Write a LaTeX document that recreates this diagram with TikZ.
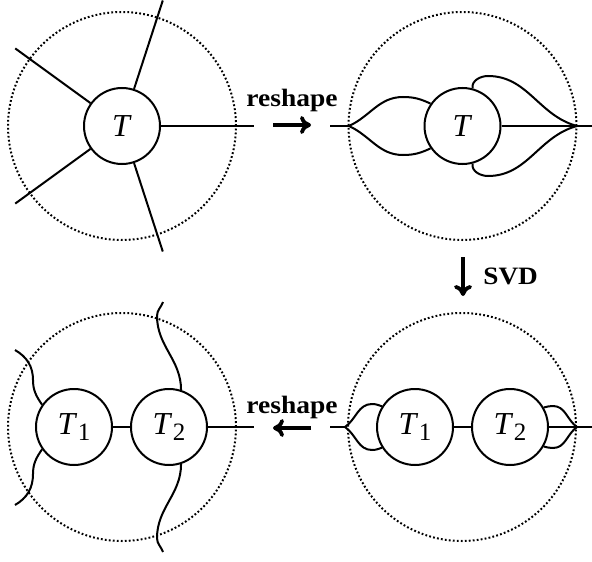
\documentclass[tikz,border=0pt]{standalone}
\usepackage{fontspec}
\usepackage{graphicx}
\setmainfont{Liberation Serif}
\usetikzlibrary{arrows.meta,calc}

% tensor label with an optional index
\newcommand\Tn[1]{\textit{T}\kern0.3pt\raisebox{-0.16em}{\fontsize{12.5}{14}\selectfont #1}}

\begin{document}
\begin{tikzpicture}[x=0.5pt,y=0.5pt,
  tensor/.style={circle,draw,line width=1pt,minimum size=38pt,inner sep=0pt,
                 font=\fontsize{16}{18}\selectfont},
  leg/.style={line width=1pt},
  boundary/.style={line width=1pt,dash pattern=on 0.9pt off 1.1pt},
  op/.style={line width=1.9pt,-{Computer Modern Rightarrow[length=5.5pt,width=9pt]}},
  oplabel/.style={font=\fontsize{12.5}{14}\selectfont\bfseries,inner sep=0pt}]
\useasboundingbox (0,0) rectangle (592,-561);

% ---- single tensor with five legs
\coordinate (A) at (122,-126);
\draw[boundary] (A) circle[radius=57pt];
\node[tensor] (Ta) at (A) {\textit{T}};
\foreach \a/\n in {0/a,72/b,144/c,216/d,288/e}
  \coordinate (La\n) at ($(A)+(\a:132)$);
\foreach \n in {a,b,c,d,e}
  \draw[leg] (Ta) -- (La\n);

% ---- legs grouped into two
\coordinate (B) at (462.5,-126);
\draw[boundary] (B) circle[radius=57pt];
\node[tensor] (Tb) at (B) {\textit{T}};
\coordinate (bL) at (330,-126);
\coordinate (bJL) at (349,-126);
\coordinate (bJR) at (577,-126);
\coordinate (bR) at (592,-126);
\draw[leg] (bL) -- (bJL);
\draw[leg] (bJL) to[out=25,in=180] (403,-97) to[out=0,in=155] (Tb.145);
\draw[leg] (bJL) to[out=-25,in=180] (403,-155) to[out=0,in=-155] (Tb.-145);
\draw[leg] (Tb) -- (bR);
\draw[leg] (Tb.75) to[out=100,in=180] (488,-76) to[out=0,in=165] (bJR);
\draw[leg] (Tb.-75) to[out=-100,in=180] (488,-176) to[out=0,in=-165] (bJR);

% ---- after SVD, grouped legs
\coordinate (D) at (462,-427);
\draw[boundary] (D) circle[radius=57pt];
\node[tensor] (dT1) at (415,-427) {\Tn{1}};
\node[tensor] (dT2) at (510,-427) {\Tn{2}};
\draw[leg] (dT1) -- (dT2);
\coordinate (dL) at (330,-427);
\coordinate (dJL) at (345,-427);
\coordinate (dJR) at (577,-427);
\coordinate (dR) at (592,-427);
\draw[leg] (dL) -- (dJL);
\draw[leg] (dJL) to[out=35,in=180] (372,-404) to[out=0,in=160] (dT1.148);
\draw[leg] (dJL) to[out=-35,in=180] (372,-450) to[out=0,in=-160] (dT1.-148);
\draw[leg] (dT2) -- (dR);
\draw[leg] (dT2.30) to[out=15,in=180] (553,-406) to[out=0,in=145] (dJR);
\draw[leg] (dT2.-30) to[out=-15,in=180] (553,-448) to[out=0,in=-145] (dJR);

% ---- two tensors with the original legs restored
\coordinate (C) at (122,-427);
\draw[boundary] (C) circle[radius=57pt];
\node[tensor] (cT1) at (74,-427) {\Tn{1}};
\node[tensor] (cT2) at (169,-427) {\Tn{2}};
\draw[leg] (cT1) -- (cT2);
\coordinate (cR) at (254,-427);
\draw[leg] (cT2) -- (cR);
\coordinate (cW1) at (15,-350);
\coordinate (cW2) at (15,-505);
\coordinate (cW3) at (163,-302);
\coordinate (cW4) at (163,-552);
\draw[leg] (cT1.145) to[out=125,in=-90] (33,-380) to[out=90,in=-30] (cW1);
\draw[leg] (cT1.-145) to[out=-125,in=90] (33,-474) to[out=-90,in=30] (cW2);
\draw[leg] (cT2.72) to[out=90,in=-90] (157,-316) to[out=90,in=-110] (cW3);
\draw[leg] (cT2.-72) to[out=-90,in=90] (157,-538) to[out=-90,in=110] (cW4);

% ---- operations
\coordinate (r1a) at (273,-125);
\coordinate (r1b) at (311,-125);
\draw[op] (r1a) -- (r1b);
\node[oplabel,anchor=base] (r1t) at (292,-107) {\scalebox{1.1}[1]{reshape}};

\coordinate (s1a) at (463,-257);
\coordinate (s1b) at (463,-296);
\draw[op] (s1a) -- (s1b);
\node[oplabel,anchor=base west] (s1t) at (483,-284) {\scalebox{1.09}[1]{SVD}};

\coordinate (r2a) at (311,-428);
\coordinate (r2b) at (273,-428);
\draw[op] (r2a) -- (r2b);
\node[oplabel,anchor=base] (r2t) at (292,-413) {\scalebox{1.1}[1]{reshape}};
\end{tikzpicture}
\end{document}
